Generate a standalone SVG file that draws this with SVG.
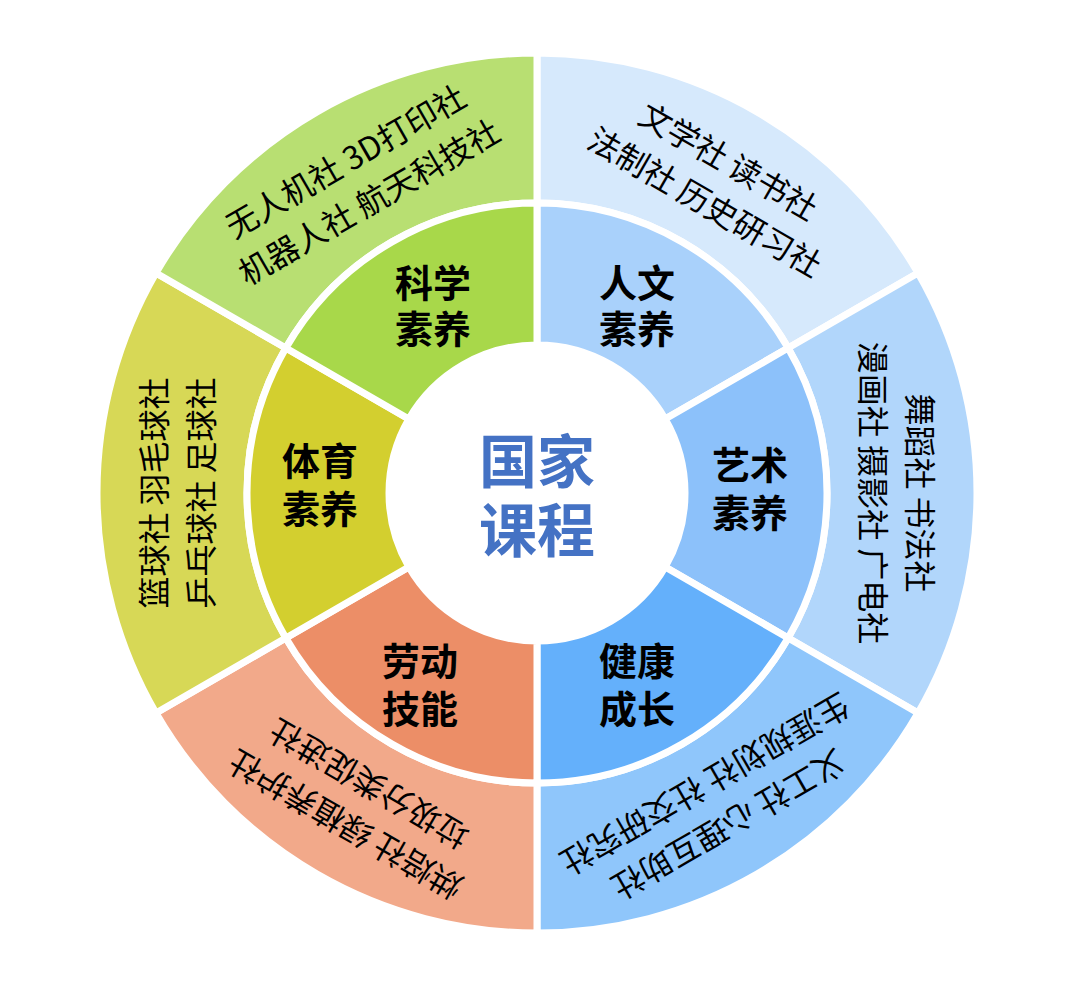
<svg xmlns="http://www.w3.org/2000/svg" width="1074" height="983" viewBox="0 0 1074 983">
<style>
.seg{stroke:#fff;stroke-width:7;stroke-linejoin:round}
.o{font-family:"Noto Sans CJK SC",sans-serif;font-size:32px;fill:#000;text-anchor:middle;dominant-baseline:central}
.i{font-family:"Noto Sans CJK SC",sans-serif;font-size:38px;font-weight:bold;fill:#000;text-anchor:middle;dominant-baseline:central}
.c{font-family:"Noto Sans CJK SC",sans-serif;font-size:58px;font-weight:bold;fill:#4472c4;text-anchor:middle;dominant-baseline:central}
</style>
<rect width="1074" height="983" fill="#fff"/>
<g id="renwen">
<path class="seg" fill="#d6e9fc" d="M537,53 A440,440 0 0 1 918.05,273 L788.15,348 A290,290 0 0 0 537,203Z"/>
<path class="seg" fill="#a9d1fb" d="M537,203 A290,290 0 0 1 788.15,348 L665.17,419 A148,148 0 0 0 537,345Z"/>
<text class="i" x="637" y="280">人文</text><text class="i" x="637" y="326">素养</text>
<g transform="rotate(30 537 493)"><text class="o" x="537" y="108">文学社 读书社</text><text class="o" x="537" y="155">法制社 历史研习社</text></g>
</g>
<g id="yishu">
<path class="seg" fill="#b1d6fb" d="M918.05,273 A440,440 0 0 1 918.05,713 L788.15,638 A290,290 0 0 0 788.15,348Z"/>
<path class="seg" fill="#8cc1fa" d="M788.15,348 A290,290 0 0 1 788.15,638 L665.17,567 A148,148 0 0 0 665.17,419Z"/>
<text class="i" x="750" y="462">艺术</text><text class="i" x="750" y="510">素养</text>
<g transform="rotate(90 537 493)"><text class="o" x="537" y="108">舞蹈社 书法社</text><text class="o" x="537" y="155">漫画社 摄影社 广电社</text></g>
</g>
<g id="jiankang">
<path class="seg" fill="#8fc6fb" d="M918.05,713 A440,440 0 0 1 537,933 L537,783 A290,290 0 0 0 788.15,638Z"/>
<path class="seg" fill="#64b0fb" d="M788.15,638 A290,290 0 0 1 537,783 L537,641 A148,148 0 0 0 665.17,567Z"/>
<text class="i" x="637" y="658">健康</text><text class="i" x="637" y="706">成长</text>
<g transform="rotate(150 537 493)"><text class="o" x="537" y="108">义工社 心理互助社</text><text class="o" x="537" y="155">生涯规划社 社交研究社</text></g>
</g>
<g id="laodong">
<path class="seg" fill="#f2a98a" d="M537,933 A440,440 0 0 1 155.95,713 L285.85,638 A290,290 0 0 0 537,783Z"/>
<path class="seg" fill="#ec8e67" d="M537,783 A290,290 0 0 1 285.85,638 L408.83,567 A148,148 0 0 0 537,641Z"/>
<text class="i" x="420" y="658">劳动</text><text class="i" x="420" y="706">技能</text>
<g transform="rotate(210 537 493)"><text class="o" x="537" y="108">烘焙社 绿植养护社</text><text class="o" x="537" y="155">垃圾分类促进社</text></g>
</g>
<g id="tiyu">
<path class="seg" fill="#d7d856" d="M155.95,713 A440,440 0 0 1 155.95,273 L285.85,348 A290,290 0 0 0 285.85,638Z"/>
<path class="seg" fill="#d3cf2f" d="M285.85,638 A290,290 0 0 1 285.85,348 L408.83,419 A148,148 0 0 0 408.83,567Z"/>
<text class="i" x="320" y="458">体育</text><text class="i" x="320" y="506">素养</text>
<g transform="rotate(-90 537 493)"><text class="o" x="537" y="108">篮球社 羽毛球社</text><text class="o" x="537" y="155">乒乓球社 足球社</text></g>
</g>
<g id="kexue">
<path class="seg" fill="#b8df72" d="M155.95,273 A440,440 0 0 1 537,53 L537,203 A290,290 0 0 0 285.85,348Z"/>
<path class="seg" fill="#a8d84a" d="M285.85,348 A290,290 0 0 1 537,203 L537,345 A148,148 0 0 0 408.83,419Z"/>
<text class="i" x="433" y="280">科学</text><text class="i" x="433" y="326">素养</text>
<g transform="rotate(-30 537 493)"><text class="o" x="537" y="108">无人机社 3D打印社</text><text class="o" x="537" y="155">机器人社 航天科技社</text></g>
</g>
<g id="center">
<text class="c" x="537" y="458">国家</text><text class="c" x="537" y="527">课程</text>
</g>
<g id="connectors"/>
</svg>
